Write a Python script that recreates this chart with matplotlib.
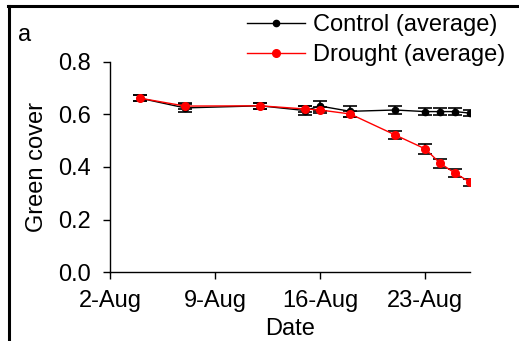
import matplotlib
matplotlib.use("Agg")
import matplotlib.pyplot as plt
import matplotlib.dates as mdates
import pandas as pd
from matplotlib.lines import Line2D

plt.rcParams["font.family"] = ["Liberation Sans", "DejaVu Sans"]

# ==========================================================
# Data
# ==========================================================

DATES = ["2019-08-04", "2019-08-07", "2019-08-12", "2019-08-15", "2019-08-16",
         "2019-08-18", "2019-08-21", "2019-08-23", "2019-08-24", "2019-08-25",
         "2019-08-26"]

CONTROL = [0.662, 0.625, 0.633, 0.615, 0.632, 0.612, 0.617, 0.611, 0.611, 0.611, 0.605]
CONTROL_ERR = [0.012, 0.015, 0.012, 0.018, 0.020, 0.020, 0.016, 0.014, 0.012, 0.014, 0.012]

DROUGHT = [0.662, 0.632, 0.633, 0.621, 0.617, 0.602, 0.522, 0.469, 0.414, 0.376, 0.342]
DROUGHT_ERR = [0.012, 0.012, 0.012, 0.012, 0.012, 0.012, 0.015, 0.020, 0.018, 0.016, 0.014]

X_TICKS = ["2019-08-02", "2019-08-09", "2019-08-16", "2019-08-23"]
X_LIMITS = ["2019-08-02", "2019-08-26"]
Y_TICKS = [0.0, 0.2, 0.4, 0.6, 0.8]

FONT_SIZE = 17


def day_month(value, pos=None):
    d = mdates.num2date(value)
    return f"{d.day}-{d:%b}"


def main():
    dates = pd.to_datetime(DATES)

    fig = plt.figure(figsize=(5.19, 3.41), dpi=100)
    ax = fig.add_axes([0.212, 0.2023, 0.694, 0.616])

    ax.errorbar(dates, CONTROL, yerr=CONTROL_ERR, color="black", lw=1,
                marker="o", ms=4.5, ecolor="black", elinewidth=1.2,
                capsize=5, capthick=1.2, zorder=2)
    ax.errorbar(dates, DROUGHT, yerr=DROUGHT_ERR, color="red", lw=1,
                marker="o", ms=5.5, ecolor="black", elinewidth=1.2,
                capsize=5, capthick=1.2, zorder=3)

    ax.set_xlim(pd.to_datetime(X_LIMITS))
    ax.set_ylim(0, 0.8)
    ax.set_xticks(pd.to_datetime(X_TICKS))
    ax.xaxis.set_major_formatter(plt.FuncFormatter(day_month))
    ax.set_yticks(Y_TICKS)
    ax.set_yticklabels([f"{v:.1f}" for v in Y_TICKS])

    for side in ("top", "right"):
        ax.spines[side].set_visible(False)
    ax.spines["left"].set_linewidth(1)
    ax.spines["bottom"].set_linewidth(1)
    ax.tick_params(direction="out", length=5, width=1, labelsize=FONT_SIZE)
    ax.tick_params(axis="x", pad=8)
    ax.tick_params(axis="y", pad=9)

    ax.set_xlabel("Date", fontsize=FONT_SIZE, labelpad=4)
    ax.set_ylabel("Green cover", fontsize=FONT_SIZE, labelpad=7)

    handles = [
        Line2D([], [], color="black", lw=1, marker="o", ms=4.5),
        Line2D([], [], color="red", lw=1, marker="o", ms=5.5),
    ]
    labels = ["Control (average)", "Drought (average)"]
    fig.legend(handles, labels, loc="upper left",
               bbox_to_anchor=(247 / 519, 1 - 14 / 341),
               frameon=False, fontsize=FONT_SIZE, handlelength=2.45,
               handletextpad=0.35, labelspacing=0.33, borderpad=0,
               borderaxespad=0)

    fig.text(25 / 519, 1 - 35 / 341, "a", fontsize=FONT_SIZE, ha="center", va="center")

    # frame drawn around the panel in the original figure
    fig.add_artist(Line2D([9 / 519, 9 / 519], [0, 1 - 6 / 341], color="black",
                          lw=2.2, transform=fig.transFigure))
    fig.add_artist(Line2D([8 / 519, 1], [1 - 6 / 341, 1 - 6 / 341], color="black",
                          lw=2.2, transform=fig.transFigure))

    fig.savefig("out.png", dpi=100)
    plt.close(fig)


if __name__ == "__main__":
    main()
